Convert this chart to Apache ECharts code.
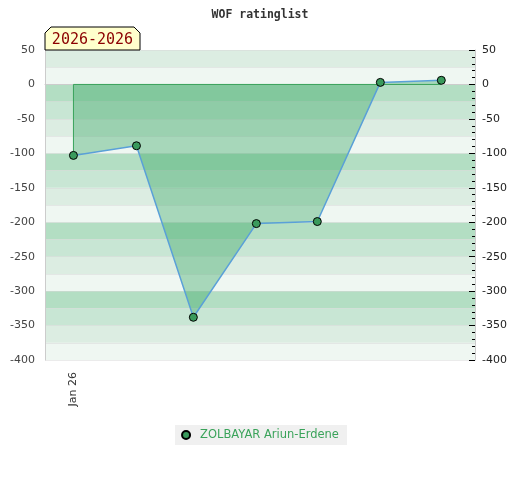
<!DOCTYPE html>
<html>
<head>
<meta charset="utf-8">
<script src="https://cdn.jsdelivr.net/npm/echarts@6/dist/echarts.min.js"></script>
<style>html,body{margin:0;padding:0;background:#fff}#c{width:520px;height:480px}</style>
</head>
<body>
<div id="c"></div>
<script>
const titleText = 'WOF ratinglist';
const periodText = '2026-2026';
const playerName = 'ZOLBAYAR Ariun-Erdene';
const dates = ['2026-01-01','2026-02-01','2026-03-01','2026-04-01','2026-05-01','2026-06-01','2026-07-01'];
const ratings = [-103, -89, -338, -202, -199, 3, 6];
const xLabelDates = ['2026-01-01'];
const xLabelTexts = ['Jan 26'];
const yMin = -400, yMax = 50;

const chart = echarts.init(document.getElementById('c'), null, {renderer: 'canvas'});
const ts = s => echarts.time.parse(s).getTime();
const labelTs = xLabelDates.map(ts);
const seriesData = dates.map((d, i) => [d, ratings[i]]);
const last = dates.length - 1;
const outline = [[dates[0], ratings[0]], [dates[0], 0], [dates[last], 0]];

chart.setOption({
  animation: false,
  title: {
    text: titleText, left: 'center', top: 4,
    textStyle: {fontFamily: 'DejaVu Sans Mono', fontSize: 11.5, fontWeight: 'bold', color: '#333'}
  },
  grid: {left: 45, right: 45, top: 50, bottom: 120},
  legend: {
    data: [playerName], bottom: 35, left: 'center',
    backgroundColor: '#f0f0f0', padding: [4, 8, 4, 6],
    icon: 'circle', itemWidth: 8, itemHeight: 8, itemGap: 7,
    textStyle: {color: '#3aa35a', fontFamily: 'DejaVu Sans', fontSize: 11.5, padding: [0, 0, 0, 5]}
  },
  xAxis: {
    type: 'time',
    min: ts('2025-12-18'), max: ts('2026-07-17 14:00'),
    axisLine: {show: true, lineStyle: {color: '#cccccc'}},
    axisTick: {show: false},
    splitLine: {show: false},
    axisLabel: {
      rotate: 90, margin: 12, showMinLabel: false, showMaxLabel: false,
      color: '#333', fontFamily: 'DejaVu Sans', fontSize: 11,
      formatter: function (v) {
        const t = typeof v === 'number' ? v : +v;
        for (let i = 0; i < labelTs.length; i++) {
          if (Math.abs(t - labelTs[i]) < 3600000) return xLabelTexts[i];
        }
        return '';
      }
    }
  },
  yAxis: [{
    type: 'value', position: 'left', min: yMin, max: yMax, interval: 25,
    axisLine: {show: true, lineStyle: {color: '#cccccc'}},
    axisTick: {show: false},
    axisLabel: {
      margin: 10, color: '#444', fontFamily: 'DejaVu Sans', fontSize: 11,
      formatter: v => (v % 50 === 0 ? String(v) : '')
    },
    splitLine: {show: true, lineStyle: {color: 'rgba(215,215,215,0.5)', width: 1}},
    splitArea: {show: true, areaStyle: {color: ['#eff7f2', '#dcede2', '#c8e6d4', '#b3dec3']}}
  }, {
    type: 'value', position: 'right', min: yMin, max: yMax, interval: 50,
    axisLine: {show: true, lineStyle: {color: '#cccccc'}},
    axisTick: {show: true, inside: true, length: 6, lineStyle: {color: '#000'}},
    minorTick: {show: true, splitNumber: 5, length: 3, lineStyle: {color: '#000'}},
    axisLabel: {margin: 7, color: '#222', fontFamily: 'DejaVu Sans', fontSize: 11},
    splitLine: {show: false}
  }],
  graphic: [{
    type: 'polygon', z: 100,
    shape: {points: [[45, 50], [45, 33], [51, 27], [134, 27], [140, 33], [140, 50]]},
    style: {fill: '#ffffcc', stroke: '#000', lineWidth: 1}
  }, {
    type: 'text', z: 101, x: 92.5, y: 40,
    style: {text: periodText, fill: '#8b0000', font: '15px "DejaVu Sans Mono"', align: 'center', verticalAlign: 'middle'}
  }],
  series: [{
    name: 'outline', type: 'line', data: outline, symbol: 'none', silent: true,
    lineStyle: {color: '#3aa35a', width: 1}, z: 3
  }, {
    name: playerName, type: 'line', data: seriesData,
    symbol: 'circle', symbolSize: 8,
    itemStyle: {color: '#3a9a5c', borderColor: '#000', borderWidth: 1},
    lineStyle: {color: '#5aa0d8', width: 1.5},
    areaStyle: {origin: 0, color: 'rgba(52,165,96,0.55)'},
    z: 4
  }]
});
</script>
</body>
</html>
